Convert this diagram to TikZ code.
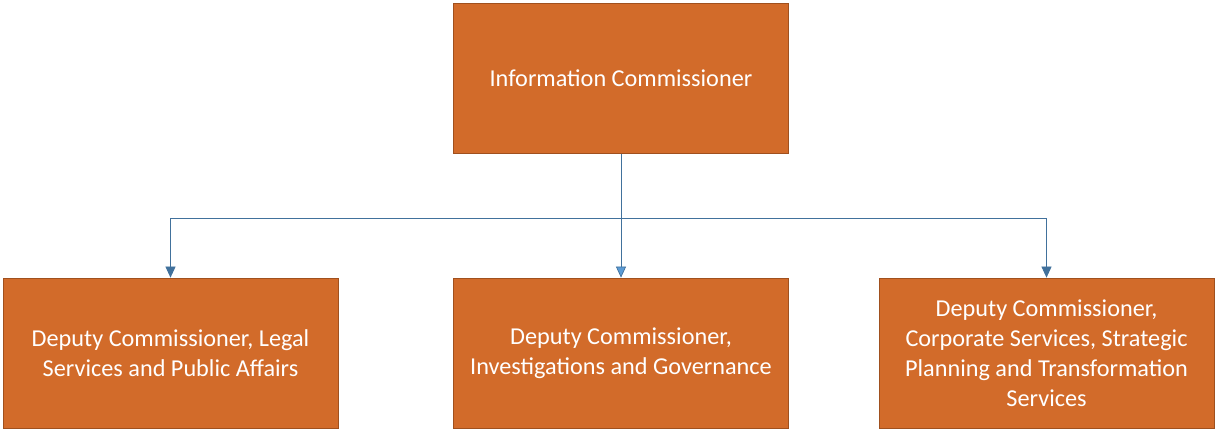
\documentclass[tikz,border=0pt]{standalone}
\usepackage{fontspec}
\setmainfont{Carlito}
\usetikzlibrary{arrows.meta}
\definecolor{boxorange}{RGB}{210,107,42}
\definecolor{boxedge}{RGB}{160,80,30}
\definecolor{linkblue}{RGB}{65,113,156}
\definecolor{linklight}{RGB}{91,155,213}
\begin{document}
\begin{tikzpicture}[
  unit/.style={draw=boxedge, fill=boxorange, text=white, minimum width=6.7cm, minimum height=3cm,
    align=center, font=\fontsize{13.8}{17}\selectfont},
  link/.style={draw=linkblue, thin, -{Triangle[length=2.2mm,width=2mm]}}
]
  \useasboundingbox (0,0) rectangle (24.34,8.64);
  % top
  \node[unit] (ic) at (12.42,7.07) {Information Commissioner};
  % deputies
  \node[unit] (legal) at (3.41,1.58) {Deputy Commissioner, Legal\\Services and Public Affairs};
  \node[unit] (invest) at (12.42,1.58) {Deputy Commissioner,\\Investigations and Governance};
  \node[unit] (corp) at (20.93,1.58) {Deputy Commissioner,\\Corporate Services, Strategic\\Planning and Transformation\\Services};
  \coordinate (bus) at (12.42,4.28);
  \draw[link] (ic.south) -- (bus) -| (legal.north);
  \draw[link] (bus) -| (corp.north);
  \draw[link, -{Triangle[length=2.2mm,width=2mm,fill=linklight]}] (bus) -- (invest.north);
\end{tikzpicture}
\end{document}
